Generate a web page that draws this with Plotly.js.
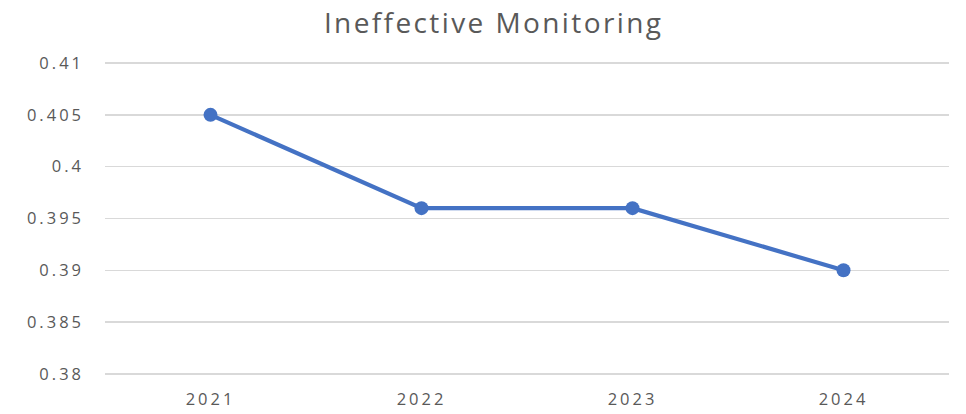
<!DOCTYPE html>
<html>
<head>
<meta charset="utf-8">
<script src="https://cdn.plot.ly/plotly-3.0.1.min.js"></script>
<style>
html,body{margin:0;padding:0;background:#fff;}
#chart{width:966px;height:414px;}
#chart .gtitle{letter-spacing:2.4px;}
#chart .ytick text, #chart .xtick text{letter-spacing:3px;}
</style>
</head>
<body>
<div id="chart"></div>
<script>
const years = ["2021", "2022", "2023", "2024"];
const values = [0.405, 0.396, 0.396, 0.390];
const yTicks = [0.38, 0.385, 0.39, 0.395, 0.4, 0.405, 0.41];
const yTickLabels = ["0.38", "0.385", "0.39", "0.395", "0.4", "0.405", "0.41"];

const trace = {
  x: years,
  y: values,
  type: 'scatter',
  mode: 'lines+markers',
  line: {color: '#4472C4', width: 4.2},
  marker: {color: '#4472C4', size: 14},
  hoverinfo: 'x+y'
};

const layout = {
  width: 966,
  height: 414,
  margin: {l: 105, r: 17, t: 62, b: 39},
  paper_bgcolor: '#ffffff',
  plot_bgcolor: '#ffffff',
  showlegend: false,
  font: {family: '"Open Sans", sans-serif', color: '#595959', size: 16},
  title: {
    text: 'Ineffective Monitoring',
    font: {family: '"Open Sans", sans-serif', size: 28, color: '#595959'},
    x: 0.511, xanchor: 'center',
    y: 0.945, yanchor: 'middle', yref: 'container'
  },
  xaxis: {
    type: 'category',
    range: [-0.5, 3.5],
    showgrid: false,
    zeroline: false,
    showline: false,
    ticks: '',
    ticklabelstandoff: 12,
    tickfont: {size: 16.5, color: '#595959'}
  },
  yaxis: {
    range: [0.3799, 0.4101],
    tickvals: yTicks,
    ticktext: yTickLabels,
    showgrid: true,
    gridcolor: '#d9d9d9',
    gridwidth: 1.5,
    zeroline: false,
    showline: false,
    ticks: '',
    ticklabelstandoff: 20,
    tickfont: {size: 16.5, color: '#595959'}
  }
};

Plotly.newPlot('chart', [trace], layout, {displayModeBar: false, staticPlot: true});
</script>
</body>
</html>
